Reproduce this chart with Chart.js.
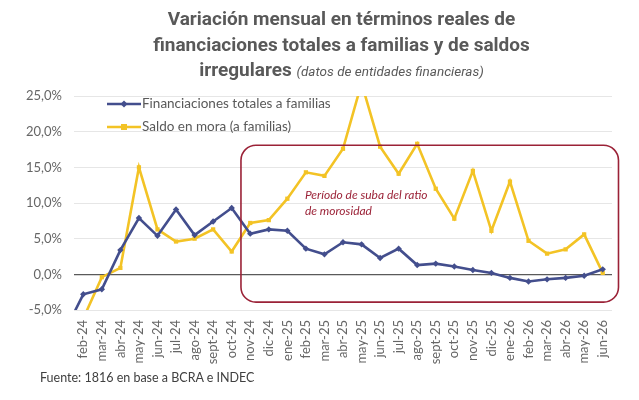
<!DOCTYPE html>
<html>
<head>
<meta charset="utf-8">
<script src="https://cdn.jsdelivr.net/npm/chart.js@4.4.1/dist/chart.umd.min.js"></script>
<style>
  body { margin: 0; background: #fff; }
  #wrap { position: relative; width: 639px; height: 400px; }
  #title {
    position: absolute; left: 22px; top: 6px; width: 639px;
    text-align: center; color: #595959;
    font-family: Roboto, sans-serif; font-weight: bold; font-size: 19px; line-height: 25.5px;
  }
  #title i { font-weight: normal; font-size: 13.5px; }
  #source {
    position: absolute; left: 40px; top: 370px;
    font-family: Lato, sans-serif; font-size: 12.5px; color: #404040;
  }
</style>
</head>
<body>
<div id="wrap">
  <canvas id="myChart" width="639" height="400"></canvas>
  <div id="title">Variación mensual en términos reales de<br>financiaciones totales a familias y de saldos<br>irregulares <i>(datos de entidades financieras)</i></div>
  <div id="source">Fuente: 1816 en base a BCRA e INDEC</div>
</div>
<script>
// months (ene-24 is only there so the first segment enters from the left edge)
const months = ['ene-24', 'feb-24', 'mar-24', 'abr-24', 'may-24', 'jun-24', 'jul-24', 'ago-24', 'sept-24', 'oct-24',
    'nov-24', 'dic-24', 'ene-25', 'feb-25', 'mar-25', 'abr-25', 'may-25', 'jun-25', 'jul-25', 'ago-25',
    'sept-25', 'oct-25', 'nov-25', 'dic-25', 'ene-26', 'feb-26', 'mar-26', 'abr-26', 'may-26', 'jun-26'];

const financiaciones = [-8.0, -2.8, -2.1, 3.4, 7.9, 5.4, 9.1, 5.5, 7.4, 9.3,
    5.7, 6.3, 6.1, 3.6, 2.8, 4.5, 4.2, 2.3, 3.6, 1.3,
    1.5, 1.1, 0.6, 0.2, -0.5, -1.0, -0.7, -0.5, -0.2, 0.7];

const saldoMora = [null, -6.2, -0.4, 0.9, 15.0, 6.3, 4.6, 5.0, 6.3, 3.2,
    7.2, 7.6, 10.6, 14.3, 13.8, 17.6, 26.8, 17.9, 14.1, 18.3,
    12.0, 7.8, 14.5, 6.1, 13.0, 4.7, 2.9, 3.5, 5.6, 0.2];

const yTicks = { min: -5, max: 25, step: 2.5 };

const blue = '#434e8d';
const yellow = '#f3c325';
const boxRed = '#9b2237';

// box around the rising delinquency period (in scale units)
const periodBox = { xFrom: 9.5, xTo: 29.85, yFrom: -3.9, yTo: 18.1 };
const periodText = ['Período de suba del ratio', 'de morosidad'];

const extras = {
    id: 'extras',
    afterDatasetsDraw(chart) {
        const ctx = chart.ctx;
        const x = chart.scales.x, y = chart.scales.y;
        const area = chart.chartArea;

        // rounded box
        const l = x.getPixelForValue(periodBox.xFrom), r = x.getPixelForValue(periodBox.xTo);
        const t = y.getPixelForValue(periodBox.yTo), b = y.getPixelForValue(periodBox.yFrom);
        ctx.save();
        ctx.strokeStyle = boxRed;
        ctx.lineWidth = 1.6;
        ctx.beginPath();
        ctx.roundRect(l, t, r - l, b - t, 15);
        ctx.stroke();

        ctx.fillStyle = boxRed;
        ctx.font = 'italic 12px Lato, sans-serif';
        ctx.textBaseline = 'middle';
        ctx.fillText(periodText[0], x.getPixelForValue(13) - 1, y.getPixelForValue(11.1));
        ctx.fillText(periodText[1], x.getPixelForValue(13) - 1, y.getPixelForValue(8.8));

        // legend inside the plot
        chart.data.datasets.forEach((ds, i) => {
            const ly = area.top + 8 + i * 23;
            const lx = area.left + 33;
            ctx.strokeStyle = ds.borderColor;
            ctx.lineWidth = 2.5;
            ctx.beginPath();
            ctx.moveTo(lx, ly);
            ctx.lineTo(lx + 34, ly);
            ctx.stroke();
            ctx.fillStyle = ds.borderColor;
            if (ds.pointStyle === 'rect') {
                ctx.fillRect(lx + 17 - 3, ly - 3, 6, 6);
            } else {
                ctx.beginPath();
                ctx.moveTo(lx + 17, ly - 3.5);
                ctx.lineTo(lx + 20.5, ly);
                ctx.lineTo(lx + 17, ly + 3.5);
                ctx.lineTo(lx + 13.5, ly);
                ctx.closePath();
                ctx.fill();
            }
            ctx.fillStyle = '#595959';
            ctx.font = '13.5px Lato, sans-serif';
            ctx.fillText(ds.label, lx + 35, ly);
        });
        ctx.restore();
    }
};

const ctx = document.getElementById('myChart');
new Chart(ctx, {
    type: 'line',
    data: {
        labels: months,
        datasets: [{
            label: 'Financiaciones totales a familias',
            data: financiaciones,
            borderColor: blue,
            backgroundColor: blue,
            borderWidth: 2.6,
            pointStyle: 'rectRot',
            pointRadius: 3.2,
            pointBorderWidth: 0,
            tension: 0,
            clip: 0
        }, {
            label: 'Saldo en mora (a familias)',
            data: saldoMora,
            borderColor: yellow,
            backgroundColor: yellow,
            borderWidth: 2.6,
            pointStyle: 'rect',
            pointRadius: 3,
            pointBorderWidth: 0,
            tension: 0,
            clip: 0
        }]
    },
    options: {
        responsive: false,
        animation: false,
        layout: { padding: { top: 96, right: 27, bottom: 30, left: 0 } },
        plugins: {
            legend: { display: false },
            tooltip: { enabled: false }
        },
        scales: {
            x: {
                min: 'feb-24',
                offset: true,
                grid: { display: false },
                border: { display: false },
                ticks: {
                    autoSkip: false,
                    minRotation: 90,
                    maxRotation: 90,
                    padding: 2,
                    color: '#666666',
                    font: { family: 'Lato', size: 13 }
                },
                afterFit(scale) { scale.height = 60; }
            },
            y: {
                min: yTicks.min,
                max: yTicks.max,
                grid: {
                    drawTicks: false,
                    color: (c) => c.tick.value === 0 ? '#5a5a5a' : '#e6e6e6',
                    lineWidth: (c) => c.tick.value === 0 ? 1.3 : 1
                },
                border: { display: false },
                ticks: {
                    stepSize: yTicks.step,
                    padding: 12,
                    color: '#666666',
                    font: { family: 'Lato', size: 13 },
                    callback: (v) => v.toFixed(1).replace('.', ',') + '%'
                },
                afterFit(scale) { scale.width = 74; }
            }
        }
    },
    plugins: [extras]
});
</script>
</body>
</html>
